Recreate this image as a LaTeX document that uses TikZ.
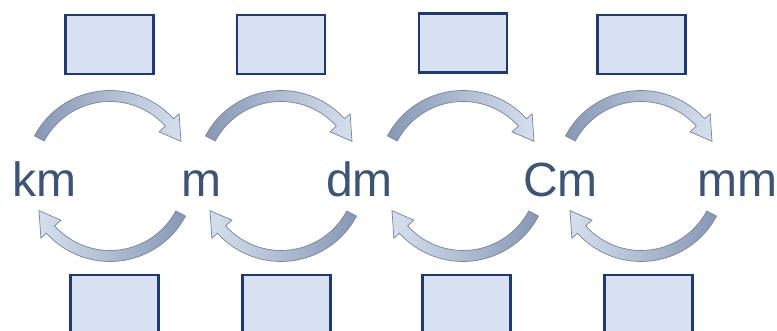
\documentclass[tikz,border=0pt]{standalone}
\usepackage{fontspec}
\setmainfont{Liberation Sans}
\usetikzlibrary{calc}
\definecolor{boxfill}{HTML}{D9E2F2}
\definecolor{boxline}{HTML}{1F3A6E}
\definecolor{txt}{HTML}{3E5475}
\definecolor{arwdark}{HTML}{8797B4}
\definecolor{arwlight}{HTML}{D5E0EE}
\definecolor{arwline}{HTML}{7A8599}
\newcommand\TopArw[2]{\path[#2] ($(#1)+(152:85.5pt)$) arc[start angle=152,end angle=42,radius=85.5pt] -- ($(#1)+(42:93pt)$) -- ($(#1)+(26:79pt)$) -- ($(#1)+(42:66pt)$) -- ($(#1)+(42:74.5pt)$) arc[start angle=42,end angle=152,radius=74.5pt] -- cycle;}
\newcommand\BotArw[2]{\path[#2] ($(#1)+(-28:85.5pt)$) arc[start angle=-28,end angle=-138,radius=85.5pt] -- ($(#1)+(-138:93pt)$) -- ($(#1)+(-154:79pt)$) -- ($(#1)+(-138:66pt)$) -- ($(#1)+(-138:74.5pt)$) arc[start angle=-138,end angle=-28,radius=74.5pt] -- cycle;}
\begin{document}
\begin{tikzpicture}[x=1pt,y=1pt,
  blank/.style={draw=boxline,fill=boxfill,line width=2.4pt,minimum width=88pt,minimum height=59pt,inner sep=0pt},
  unit/.style={text=txt,inner sep=0pt,anchor=base west,font=\fontsize{48}{48}\selectfont},
  shadowstyle/.style={fill=black,opacity=0.12,shift={(2pt,-4pt)}},
  toparrow/.style={left color=arwdark,right color=arwlight,draw=arwline,line width=0.7pt},
  botarrow/.style={left color=arwlight,right color=arwdark,draw=arwline,line width=0.7pt}]
\useasboundingbox (0,0) rectangle (777,331);
\clip (0,0) rectangle (777,331);
\fill[white] (0,0) rectangle (777,331);
% cycle centres
\coordinate (c1) at (110,155);
\coordinate (c2) at (281,155);
\coordinate (c3) at (463,155);
\coordinate (c4) at (641,155);
% boxes
\node[blank] (t1) at (109.5,286.5) {};
\node[blank] (t2) at (281,286.5) {};
\node[blank] (t3) at (463,288) {};
\node[blank] (t4) at (641.5,286.5) {};
\node[blank] (b1) at (114.5,26.5) {};
\node[blank] (b2) at (286.5,26.5) {};
\node[blank] (b3) at (466.5,26.5) {};
\node[blank] (b4) at (648.5,26.5) {};
% labels
\node[unit] (km) at (12,134) {km};
\node[unit] (m) at (181,134) {m};
\node[unit] (dm) at (326,134) {dm};
\node[unit] (cm) at (523,134) {Cm};
\node[unit] (mm) at (697,134) {mm};
% arrows
\foreach \c in {c1,c2,c3,c4}{
  \TopArw{\c}{shadowstyle}
  \BotArw{\c}{shadowstyle}
  \TopArw{\c}{toparrow}
  \BotArw{\c}{botarrow}
}
\end{tikzpicture}
\end{document}
